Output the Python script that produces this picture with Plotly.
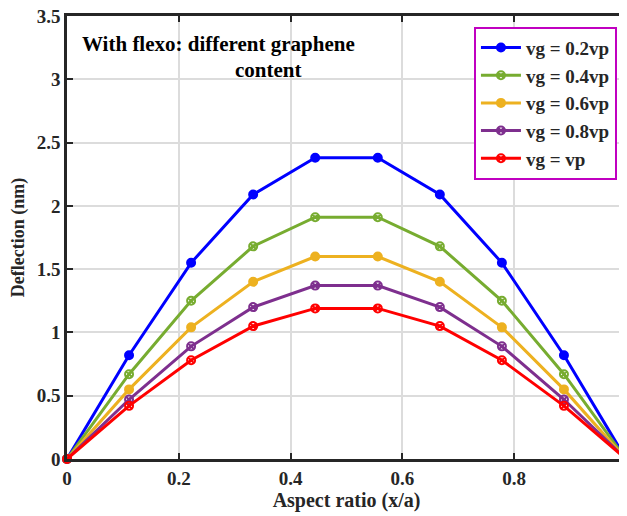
import plotly.graph_objects as go

x_vals = [0, 0.111, 0.222, 0.333, 0.444, 0.556, 0.667, 0.778, 0.889, 1.0]
vg_02 = [0, 0.82, 1.55, 2.09, 2.38, 2.38, 2.09, 1.55, 0.82, 0]
vg_04 = [0, 0.67, 1.25, 1.68, 1.91, 1.91, 1.68, 1.25, 0.67, 0]
vg_06 = [0, 0.55, 1.04, 1.40, 1.60, 1.60, 1.40, 1.04, 0.55, 0]
vg_08 = [0, 0.47, 0.89, 1.20, 1.37, 1.37, 1.20, 0.89, 0.47, 0]
vg_10 = [0, 0.42, 0.78, 1.05, 1.19, 1.19, 1.05, 0.78, 0.42, 0]

names = ["vg = 0.2vp", "vg = 0.4vp", "vg = 0.6vp", "vg = 0.8vp", "vg = vp"]
series = [vg_02, vg_04, vg_06, vg_08, vg_10]
colors = ["#0000ff", "#77ac30", "#edb120", "#7e2f8e", "#ff0000"]
symbols = ["circle", "circle-x-open", "circle", "circle-x-open", "circle-x-open"]

fig = go.Figure()
for n, s, c, sym in zip(names, series, colors, symbols):
    fig.add_trace(go.Scatter(
        x=x_vals, y=s, name="<b>" + n + "</b>", mode="lines+markers",
        line=dict(color=c, width=3),
        marker=dict(symbol=sym, size=8, color=c, line=dict(color=c, width=2)),
        cliponaxis=False,
    ))

font_family = "Liberation Serif"
axis_common = dict(
    showline=True, linecolor="#262626", linewidth=2.5, mirror="ticks",
    ticks="inside", ticklen=6, tickwidth=2, tickcolor="#262626",
    showgrid=True, gridcolor="#dcdcdc", gridwidth=1.5, zeroline=False,
    tickfont=dict(family=font_family, size=19, color="#262626"),
    ticklabeloverflow="allow",
)

fig.update_layout(
    width=619, height=508,
    margin=dict(l=59, r=1, t=8, b=57),
    paper_bgcolor="white", plot_bgcolor="white",
    font=dict(family=font_family, color="#262626"),
    xaxis=dict(range=[0, 1], tickvals=[0, 0.2, 0.4, 0.6, 0.8, 1],
               ticktext=["<b>0</b>", "<b>0.2</b>", "<b>0.4</b>", "<b>0.6</b>", "<b>0.8</b>", "<b>1</b>"],
               title=dict(text="<b>Aspect ratio (x/a)</b>", font=dict(size=20, family=font_family), standoff=6),
               automargin=False,
               **axis_common),
    yaxis=dict(range=[0, 3.5], tickvals=[0, 0.5, 1, 1.5, 2, 2.5, 3, 3.5],
               ticktext=["<b>0</b>", "<b>0.5</b>", "<b>1</b>", "<b>1.5</b>", "<b>2</b>", "<b>2.5</b>", "<b>3</b>", "<b>3.5</b>"],
               title=dict(text="<b>Deflection (nm)</b>", font=dict(size=18, family=font_family), standoff=8),
               automargin=False,
               **axis_common),
    legend=dict(
        x=0.728, y=0.976, xanchor="left", yanchor="top",
        bordercolor="#c000c0", borderwidth=2, bgcolor="white",
        font=dict(family=font_family, size=19, color="#262626"),
        itemwidth=40, tracegroupgap=0,
    ),
    showlegend=True,
)

fig.add_annotation(xref="paper", yref="paper", x=0.023, y=0.937, xanchor="left", yanchor="middle",
                   text="<b>With flexo: different graphene</b>", showarrow=False,
                   font=dict(family=font_family, size=21, color="black"))
fig.add_annotation(xref="paper", yref="paper", x=0.36, y=0.878, xanchor="center", yanchor="middle",
                   text="<b>content</b>", showarrow=False,
                   font=dict(family=font_family, size=21, color="black"))

fig.write_html("out.html")
